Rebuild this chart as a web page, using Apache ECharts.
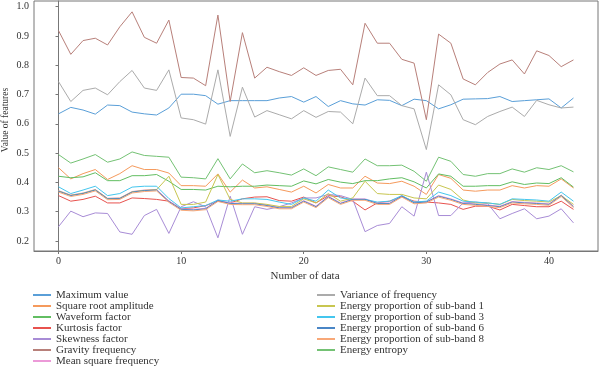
<!DOCTYPE html>
<html><head><meta charset="utf-8">
<script src="https://cdn.jsdelivr.net/npm/echarts@6/dist/echarts.min.js"></script>
<style>html,body{margin:0;padding:0;background:#fff}#c{width:600px;height:367px}</style>
</head><body><div id="c"></div>
<script>
const xIndex = [0,1,2,3,4,5,6,7,8,9,10,11,12,13,14,15,16,17,18,19,20,21,22,23,24,25,26,27,28,29,30,31,32,33,34,35,36,37,38,39,40,41,42];
const xTicks = [0,10,20,30,40];
const yTicks = [0.2,0.3,0.4,0.5,0.6,0.7,0.8,0.9,1.0];

const maximumValue = [0.634,0.656,0.647,0.633,0.664,0.662,0.640,0.634,0.630,0.654,0.701,0.701,0.696,0.667,0.679,0.679,0.679,0.679,0.688,0.693,0.674,0.693,0.659,0.679,0.668,0.664,0.682,0.680,0.662,0.684,0.679,0.651,0.665,0.684,0.685,0.686,0.693,0.676,0.679,0.682,0.685,0.654,0.688];
const squareRootAmplitude = [0.450,0.412,0.430,0.444,0.410,0.430,0.457,0.444,0.444,0.432,0.389,0.389,0.387,0.429,0.367,0.408,0.381,0.385,0.376,0.367,0.387,0.364,0.393,0.381,0.381,0.421,0.398,0.396,0.404,0.387,0.359,0.427,0.414,0.374,0.370,0.374,0.374,0.389,0.381,0.389,0.387,0.412,0.381];
const waveformFactor = [0.421,0.416,0.419,0.433,0.406,0.406,0.423,0.423,0.427,0.404,0.376,0.376,0.374,0.387,0.385,0.387,0.387,0.391,0.389,0.387,0.405,0.395,0.410,0.401,0.396,0.406,0.406,0.412,0.416,0.402,0.381,0.429,0.421,0.387,0.387,0.389,0.389,0.402,0.393,0.398,0.396,0.416,0.384];
const kurtosisFactor = [0.355,0.336,0.342,0.353,0.330,0.330,0.347,0.345,0.342,0.336,0.310,0.313,0.321,0.336,0.330,0.344,0.350,0.351,0.338,0.336,0.350,0.330,0.355,0.351,0.336,0.306,0.330,0.336,0.351,0.336,0.333,0.330,0.325,0.308,0.319,0.319,0.306,0.325,0.321,0.317,0.317,0.336,0.308];
const skewnessFactor = [0.249,0.302,0.283,0.296,0.294,0.231,0.223,0.287,0.308,0.226,0.317,0.334,0.317,0.211,0.353,0.223,0.317,0.308,0.317,0.330,0.347,0.347,0.359,0.355,0.342,0.232,0.253,0.260,0.317,0.285,0.435,0.287,0.287,0.330,0.333,0.328,0.276,0.294,0.310,0.276,0.285,0.310,0.262];
const gravityFrequency = [0.918,0.837,0.884,0.892,0.869,0.931,0.982,0.895,0.875,0.954,0.758,0.756,0.730,0.971,0.676,0.911,0.756,0.793,0.778,0.765,0.791,0.765,0.782,0.786,0.733,0.943,0.875,0.875,0.820,0.807,0.614,0.906,0.875,0.753,0.733,0.775,0.804,0.818,0.770,0.849,0.833,0.795,0.818];
const meanSquareFrequency = [0.372,0.357,0.364,0.376,0.346,0.347,0.369,0.374,0.376,0.337,0.310,0.308,0.312,0.340,0.330,0.329,0.329,0.323,0.315,0.315,0.338,0.319,0.353,0.330,0.344,0.344,0.330,0.330,0.355,0.332,0.335,0.355,0.344,0.330,0.327,0.323,0.319,0.335,0.332,0.330,0.327,0.357,0.319];
const varianceOfFrequency = [0.744,0.676,0.714,0.722,0.699,0.744,0.782,0.722,0.714,0.784,0.620,0.614,0.599,0.784,0.557,0.725,0.623,0.645,0.631,0.617,0.645,0.622,0.642,0.640,0.600,0.756,0.696,0.696,0.662,0.651,0.512,0.733,0.699,0.614,0.597,0.625,0.642,0.657,0.625,0.680,0.665,0.654,0.657];
const subBand1 = [0.371,0.356,0.363,0.375,0.345,0.346,0.368,0.373,0.375,0.421,0.325,0.325,0.333,0.427,0.342,0.330,0.330,0.325,0.318,0.318,0.344,0.330,0.362,0.336,0.347,0.404,0.362,0.359,0.359,0.347,0.344,0.391,0.376,0.340,0.330,0.330,0.325,0.342,0.338,0.336,0.333,0.355,0.325];
const subBand3 = [0.385,0.362,0.374,0.387,0.355,0.362,0.384,0.387,0.387,0.345,0.313,0.317,0.321,0.340,0.336,0.344,0.344,0.342,0.333,0.325,0.347,0.336,0.374,0.347,0.342,0.342,0.333,0.336,0.355,0.333,0.336,0.367,0.355,0.336,0.333,0.330,0.325,0.344,0.342,0.340,0.336,0.367,0.336];
const subBand6 = [0.370,0.355,0.362,0.374,0.344,0.345,0.367,0.372,0.374,0.335,0.308,0.306,0.310,0.338,0.328,0.327,0.327,0.321,0.313,0.313,0.336,0.317,0.351,0.328,0.342,0.342,0.328,0.328,0.353,0.330,0.333,0.353,0.342,0.328,0.325,0.321,0.317,0.333,0.330,0.328,0.325,0.355,0.317];
const subBand8 = [0.367,0.352,0.359,0.371,0.341,0.342,0.364,0.369,0.371,0.332,0.305,0.303,0.307,0.335,0.325,0.324,0.324,0.318,0.310,0.310,0.333,0.314,0.348,0.325,0.339,0.339,0.325,0.325,0.350,0.327,0.330,0.350,0.339,0.325,0.322,0.318,0.314,0.330,0.327,0.325,0.322,0.352,0.314];
const energyEntropy = [0.495,0.466,0.480,0.495,0.469,0.480,0.504,0.492,0.489,0.486,0.418,0.416,0.412,0.481,0.412,0.463,0.433,0.440,0.433,0.425,0.446,0.423,0.453,0.444,0.435,0.480,0.457,0.457,0.459,0.438,0.404,0.486,0.472,0.427,0.421,0.430,0.430,0.446,0.435,0.450,0.444,0.457,0.436];

const seriesNames = ['Maximum value','Square root amplitude','Waveform factor','Kurtosis factor','Skewness factor','Gravity frequency','Mean square frequency','Variance of frequency','Energy proportion of sub-band 1','Energy proportion of sub-band 3','Energy proportion of sub-band 6','Energy proportion of sub-band 8','Energy entropy'];
const seriesValues = [maximumValue,squareRootAmplitude,waveformFactor,kurtosisFactor,skewnessFactor,gravityFrequency,meanSquareFrequency,varianceOfFrequency,subBand1,subBand3,subBand6,subBand8,energyEntropy];
const seriesColors = ['#5a9fd8','#f59a5c','#62be62','#e8524e','#a88cd6','#b8807a','#ec9ad8','#ababab','#c8c650','#44c6ee','#4a86c6','#f8a878','#74c274'];

const FONT = '"Liberation Serif", "DejaVu Serif", serif';
const chart = echarts.init(document.getElementById('c'), null, {renderer: 'canvas'});
const legendBase = {
  orient: 'vertical', itemWidth: 18, itemHeight: 2, itemGap: 0, icon: 'rect', padding: 0,
  height: 80,
  textStyle: {fontFamily: FONT, fontSize: 11, lineHeight: 11, color: '#333'}
};
chart.setOption({
  animation: false,
  backgroundColor: '#fff',
  grid: {left: 34, right: 2, top: 1, bottom: 116, show: true, borderColor: '#777', borderWidth: 1, outerBoundsMode: 'none'},
  legend: [
    Object.assign({}, legendBase, {data: seriesNames.slice(0, 7), left: 33, top: 289.5}),
    Object.assign({}, legendBase, {data: seriesNames.slice(7), left: 317, top: 289.5})
  ],
  xAxis: {
    type: 'value', min: -2, max: 44,
    name: 'Number of data', nameLocation: 'middle', nameGap: 19,
    nameTextStyle: {fontFamily: FONT, fontSize: 11, color: '#333', padding: [0, 22, 0, 0]},
    axisLine: {lineStyle: {color: '#777'}},
    axisTick: {show: true, length: 3, customValues: xTicks, lineStyle: {color: '#777'}},
    axisLabel: {customValues: xTicks, fontFamily: FONT, fontSize: 10, color: '#333', margin: 5},
    splitLine: {show: false}
  },
  yAxis: {
    type: 'value', min: 0.166, max: 1.019,
    name: 'Value of features', nameLocation: 'middle', nameGap: 24, nameMoveOverlap: false,
    nameTextStyle: {fontFamily: FONT, fontSize: 9.5, color: '#333', padding: [0, 0, 0, 12]},
    axisLine: {show: true, lineStyle: {color: '#777'}},
    axisTick: {show: true, length: 3, customValues: yTicks, lineStyle: {color: '#777'}},
    axisLabel: {customValues: yTicks, fontFamily: FONT, fontSize: 10, color: '#333', margin: 5,
      formatter: v => v.toFixed(1)},
    splitLine: {show: false}
  },
  series: seriesNames.map((n, k) => ({
    name: n, type: 'line', showSymbol: false, symbol: 'none',
    data: xIndex.map((x, i) => [x, seriesValues[k][i]]),
    lineStyle: {width: 1, color: seriesColors[k]},
    itemStyle: {color: seriesColors[k]},
    emphasis: {disabled: true}
  }))
});
</script></body></html>
